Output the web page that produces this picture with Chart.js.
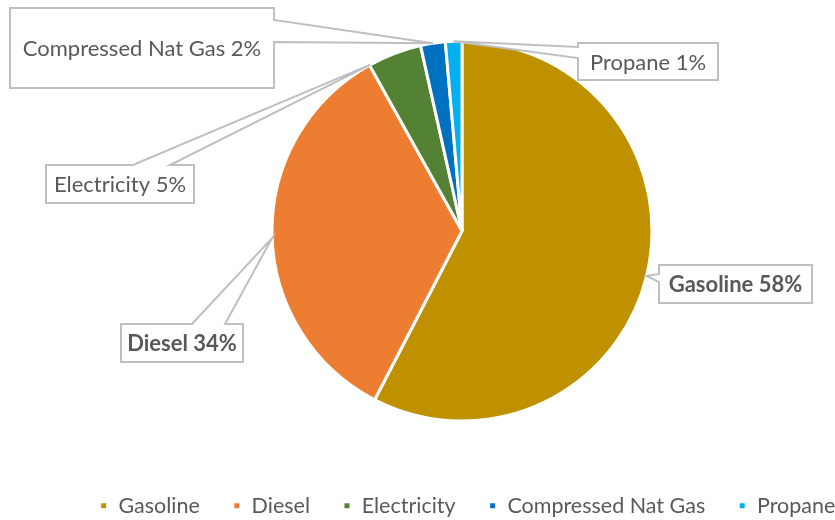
<!DOCTYPE html>
<html>
<head>
<meta charset="utf-8">
<script src="https://cdn.jsdelivr.net/npm/chart.js@4"></script>
<style>
  html, body { margin: 0; padding: 0; background: #fff; }
  #wrap { width: 835px; height: 520px; }
</style>
</head>
<body>
<div id="wrap"><canvas id="fuelPie"></canvas></div>
<script>
const categories = ["Gasoline", "Diesel", "Electricity", "Compressed Nat Gas", "Propane"];
const shares = [57.6, 34.3, 4.6, 2.1, 1.4];
const colors = ["#BF9000", "#ED7D31", "#548235", "#0070C0", "#00B0F0"];

// callout boxes (x, y, w, h), side the pointer leaves from, pointer base offsets along that side,
// and where on the slice's outer edge the pointer ends (0 = start, 1 = end)
const callouts = [
  { box: [659, 265, 153, 38], side: "left", base: [9, 17], frac: 0.5, bold: true },
  { box: [121, 324, 122, 38], side: "top", base: [71, 104], frac: 0.49, bold: true },
  { box: [46, 165, 148, 38], side: "top", base: [87, 124], frac: 0.02, bold: false },
  { box: [10, 8, 264, 80], side: "right", base: [12, 34], frac: 0.5, bold: false },
  { box: [578, 43, 140, 37], side: "left", base: [4, 15], frac: 0.5, bold: false },
];

const total = shares.reduce((a, b) => a + b, 0);
const labelText = categories.map((c, i) => c + " " + Math.round(shares[i] / total * 100) + "%");

const calloutPlugin = {
  id: "callouts",
  afterDatasetsDraw(chart) {
    const ctx = chart.ctx;
    const arcs = chart.getDatasetMeta(0).data;
    callouts.forEach((c, i) => {
      const arc = arcs[i];
      const a = arc.startAngle + c.frac * (arc.endAngle - arc.startAngle);
      const tx = arc.x + Math.cos(a) * arc.outerRadius;
      const ty = arc.y + Math.sin(a) * arc.outerRadius;
      const [x, y, w, h] = c.box;
      ctx.save();
      ctx.beginPath();
      ctx.moveTo(x, y);
      if (c.side === "top") {
        ctx.lineTo(x + c.base[0], y);
        ctx.lineTo(tx, ty);
        ctx.lineTo(x + c.base[1], y);
      }
      ctx.lineTo(x + w, y);
      if (c.side === "right") {
        ctx.lineTo(x + w, y + c.base[0]);
        ctx.lineTo(tx, ty);
        ctx.lineTo(x + w, y + c.base[1]);
      }
      ctx.lineTo(x + w, y + h);
      ctx.lineTo(x, y + h);
      if (c.side === "left") {
        ctx.lineTo(x, y + c.base[1]);
        ctx.lineTo(tx, ty);
        ctx.lineTo(x, y + c.base[0]);
      }
      ctx.closePath();
      ctx.fillStyle = "#ffffff";
      ctx.fill();
      ctx.strokeStyle = "#bfbfbf";
      ctx.lineWidth = 2;
      ctx.lineJoin = "miter";
      ctx.stroke();
      ctx.fillStyle = "#595959";
      ctx.font = (c.bold ? "bold " : "") + "22px Lato";
      ctx.textAlign = "center";
      ctx.textBaseline = "middle";
      ctx.fillText(labelText[i], x + w / 2, y + h / 2 + 1);
      ctx.restore();
    });
  }
};

new Chart(document.getElementById("fuelPie"), {
  type: "pie",
  data: {
    labels: categories,
    datasets: [
      {
        data: shares,
        backgroundColor: colors,
        borderColor: "#ffffff",
        borderWidth: 3,
        radius: 190,
      },
    ],
  },
  options: {
    responsive: true,
    maintainAspectRatio: false,
    animation: false,
    layout: {
      padding: { left: 0, right: -100, top: 0, bottom: -6.5 },
    },
    plugins: {
      tooltip: { enabled: false },
      // empty title on the left only pushes the pie to the right
      title: {
        display: true,
        position: "left",
        text: "",
        font: { size: 10 },
        padding: { top: 0, bottom: 77 },
      },
      legend: {
        position: "bottom",
        align: "center",
        labels: {
          boxWidth: 8,
          boxHeight: 8,
          padding: 33,
          color: "#595959",
          font: { family: "Lato", size: 21.5 },
        },
      },
    },
  },
  plugins: [calloutPlugin],
});
</script>
</body>
</html>
